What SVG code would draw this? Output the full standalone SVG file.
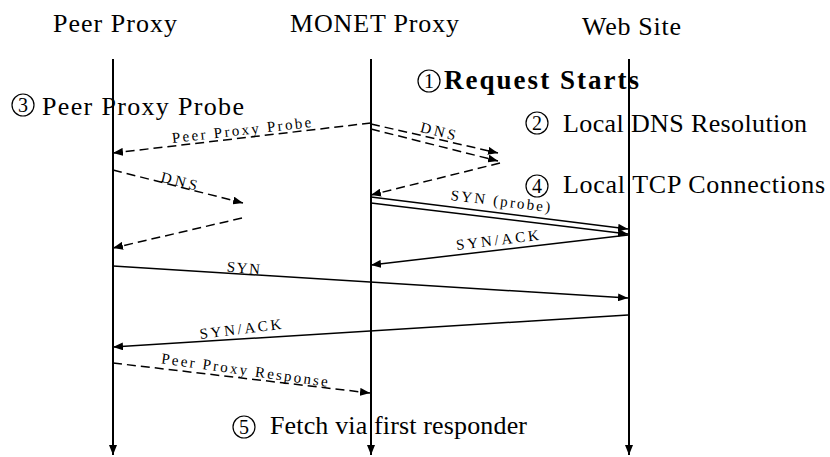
<svg xmlns="http://www.w3.org/2000/svg" width="830" height="457" viewBox="0 0 830 457">
<style>
text{font-family:'Liberation Serif','DejaVu Serif',serif;fill:#000}
.hdr{font-size:26px}
.step{font-size:26px}
.bold{font-weight:bold;font-size:27px}
.num{font-size:20px;text-anchor:middle}
.lbl{font-size:15px;text-anchor:middle}
.life{stroke:#000;stroke-width:2;fill:none}
.msg{stroke:#000;stroke-width:1.5;fill:none}
.dash{stroke-dasharray:9 5}
.circ{fill:none;stroke:#000;stroke-width:1.2}
</style>
<defs>
<marker id="ah" viewBox="0 0 10 8" refX="10" refY="4" markerWidth="10" markerHeight="8" markerUnits="userSpaceOnUse" orient="auto"><path d="M0,0 L10,4 L0,8 z" fill="#000"/></marker>
</defs>
<rect width="830" height="457" fill="#fff"/>

<g id="peer-proxy">
<text class="hdr" x="53" y="32" textLength="124">Peer Proxy</text>
</g>
<g id="monet-proxy">
<text class="hdr" x="290" y="32" textLength="169">MONET Proxy</text>
</g>
<g id="web-site">
<text class="hdr" x="582" y="35" textLength="99">Web Site</text>
</g>

<g id="step1">
<circle class="circ" cx="429" cy="81" r="11"/>
<text class="num" x="429" y="88">1</text>
<text class="step bold" x="444" y="89" textLength="195">Request Starts</text>
</g>
<g id="step2">
<circle class="circ" cx="537" cy="123" r="11"/>
<text class="num" x="537" y="130">2</text>
<text class="step" x="563" y="132" textLength="244">Local DNS Resolution</text>
</g>
<g id="step3">
<circle class="circ" cx="23" cy="105" r="11"/>
<text class="num" x="23" y="112">3</text>
<text class="step" x="42" y="115" textLength="202">Peer Proxy Probe</text>
</g>
<g id="step4">
<circle class="circ" cx="537" cy="186" r="11"/>
<text class="num" x="537" y="193">4</text>
<text class="step" x="563" y="193" textLength="262">Local TCP Connections</text>
</g>
<g id="step5">
<circle class="circ" cx="244" cy="427" r="11"/>
<text class="num" x="244" y="434">5</text>
<text class="step" x="270" y="434" textLength="257">Fetch via first responder</text>
</g>

<g id="connectors">
<line class="life" x1="113" y1="59" x2="113" y2="455" marker-end="url(#ah)"/>
<line class="life" x1="371" y1="59" x2="371" y2="455" marker-end="url(#ah)"/>
<line class="life" x1="629" y1="59" x2="629" y2="455" marker-end="url(#ah)"/>

<line class="msg dash" x1="371" y1="123" x2="113" y2="153" marker-end="url(#ah)"/>
<line class="msg dash" x1="371" y1="124" x2="498" y2="153" marker-end="url(#ah)"/>
<line class="msg dash" x1="371" y1="129" x2="498" y2="161" marker-end="url(#ah)"/>
<line class="msg dash" x1="500" y1="163" x2="371" y2="195" marker-end="url(#ah)"/>
<line class="msg dash" x1="113" y1="170" x2="243" y2="203" marker-end="url(#ah)"/>
<line class="msg dash" x1="242" y1="218" x2="113" y2="248" marker-end="url(#ah)"/>
<line class="msg" x1="371" y1="197" x2="628" y2="229" marker-end="url(#ah)"/>
<line class="msg" x1="371" y1="203" x2="628" y2="234" marker-end="url(#ah)"/>
<line class="msg" x1="628" y1="235" x2="371" y2="265" marker-end="url(#ah)"/>
<line class="msg" x1="113" y1="266" x2="628" y2="298" marker-end="url(#ah)"/>
<line class="msg" x1="628" y1="315" x2="113" y2="347" marker-end="url(#ah)"/>
<line class="msg dash" x1="113" y1="363" x2="370" y2="393" marker-end="url(#ah)"/>

<text class="lbl" transform="translate(242,135) rotate(-6.5)" textLength="140">Peer Proxy Probe</text>
<text class="lbl" transform="translate(437,136) rotate(14)" textLength="36">DNS</text>
<text class="lbl" transform="translate(178,186) rotate(14)" textLength="37">DNS</text>
<text class="lbl" transform="translate(500,206) rotate(7)" textLength="100">SYN (probe)</text>
<text class="lbl" transform="translate(498,245) rotate(-7)" textLength="83">SYN/ACK</text>
<text class="lbl" transform="translate(243,273) rotate(5)" textLength="33">SYN</text>
<text class="lbl" transform="translate(241,334) rotate(-7)" textLength="82">SYN/ACK</text>
<text class="lbl" transform="translate(244,375) rotate(8)" textLength="168">Peer Proxy Response</text>
</g>
</svg>
